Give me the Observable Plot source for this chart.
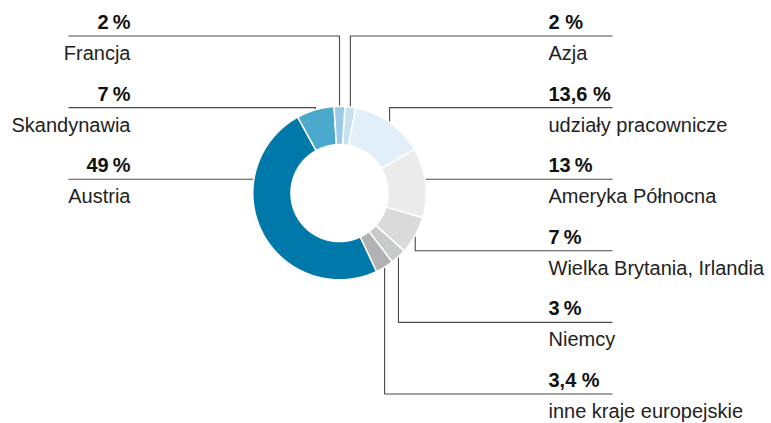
<!DOCTYPE html>
<html><head><meta charset="utf-8">
<script src="https://cdn.jsdelivr.net/npm/d3@7"></script>
<script src="https://cdn.jsdelivr.net/npm/@observablehq/plot@0.6"></script>
<style>body{margin:0;background:#fff}</style>
</head><body><div id="chart"></div>
<script>
// ---- data ----
const categories = ["Azja", "udziały pracownicze", "Ameryka Północna", "Wielka Brytania, Irlandia", "Niemcy", "inne kraje europejskie", "Austria", "Skandynawia", "Francja"];
const shares = [2, 13.6, 13, 7, 3, 3.4, 49, 7, 2];
const shareLabels = ["2 %", "13,6 %", "13\u2009%", "7\u2009%", "3\u2009%", "3,4 %", "49\u2009%", "7\u2009%", "2\u2009%"];
const palette = ["#c7e1f0", "#e2eff8", "#ebebeb", "#dadada", "#c9caca", "#b1b2b3", "#0078a9", "#4ca9ce", "#9bcbe4"];

// ---- layout ----
const W = 771, H = 423;
const cx = 339, cy = 192.6, R = 86.7, r0 = 48.5;
const rowTop = 35.5, rowStep = 71.6;
const rightTextX = 548, rightLineEnd = 612, leftTextX = 130, leftLineEnd = 68;
const fs = 20;

const rows = categories.map((c, i) => ({category: c, share: shares[i], label: shareLabels[i], color: palette[i]}));
const rot = shares[shares.length - 1] / 2 / d3.sum(shares) * 2 * Math.PI;
const arcs = d3.pie().sort(null).value(d => d.share).startAngle(rot).endAngle(rot + 2 * Math.PI)(rows);
const pt = (a, rad) => [cx + rad * Math.sin(a), cy - rad * Math.cos(a)];

const slicePts = [];
arcs.forEach(a => {
  const n = Math.max(4, Math.ceil((a.endAngle - a.startAngle) / 0.01));
  for (let k = 0; k <= n; k++) { const t = a.startAngle + (a.endAngle - a.startAngle) * k / n; const [x, y] = pt(t, R); slicePts.push({category: a.data.category, color: a.data.color, x, y}); }
  for (let k = n; k >= 0; k--) { const t = a.startAngle + (a.endAngle - a.startAngle) * k / n; const [x, y] = pt(t, r0); slicePts.push({category: a.data.category, color: a.data.color, x, y}); }
});

arcs.forEach(a => { a.mid = (a.startAngle + a.endAngle) / 2; a.right = a.mid < Math.PI; });
const rightArcs = arcs.filter(a => a.right).sort((p, q) => p.mid - q.mid);
const leftArcs = arcs.filter(a => !a.right).sort((p, q) => q.mid - p.mid);
rightArcs.forEach((a, i) => a.row = i);
leftArcs.forEach((a, i) => a.row = i);

const leaderPts = [];
const texts = [];
arcs.forEach(a => {
  const ly = rowTop + a.row * rowStep;
  const end = a.right ? rightLineEnd : leftLineEnd;
  const [mx, my] = pt(a.mid, R);
  const half = Math.sqrt(Math.max(0, R * R - (mx - cx) ** 2));
  const inside = Math.abs(ly - cy) < half - 1;
  const c = a.data.category;
  let pts;
  if (inside) {
    const ex = cx + (a.right ? 1 : -1) * Math.sqrt(R * R - (ly - cy) ** 2);
    pts = [[ex, ly], [end, ly]];
  } else {
    pts = [[mx, my], [mx, ly], [end, ly]];
  }
  pts.forEach(([x, y]) => leaderPts.push({category: c, x, y}));
  const tx = a.right ? rightTextX : leftTextX;
  texts.push({x: tx, y: ly - 7 - 0.32 * fs, text: a.data.label, bold: true, anchor: a.right ? "start" : "end"});
  texts.push({x: tx, y: ly + 24 - 0.32 * fs, text: c, bold: false, anchor: a.right ? "start" : "end"});
});

const font = "'Liberation Sans', Arial, Helvetica, sans-serif";
const chart = Plot.plot({
  width: W, height: H, margin: 0,
  x: {type: "linear", domain: [0, W], range: [0, W], axis: null},
  y: {type: "linear", domain: [0, H], range: [0, H], axis: null},
  style: {fontFamily: font, background: "#fff"},
  marks: [
    Plot.line(leaderPts, {x: "x", y: "y", z: "category", stroke: "#4a4a4a", strokeWidth: 1.1, strokeLinecap: "butt", strokeLinejoin: "miter"}),
    Plot.line(slicePts, {x: "x", y: "y", z: "category", fill: "color", stroke: "#fff", strokeWidth: 1.5, curve: "linear-closed"}),
    Plot.text(texts.filter(d => d.bold && d.anchor === "start"), {x: "x", y: "y", text: "text", textAnchor: "start", fontSize: fs, fontWeight: "bold", fill: "#111"}),
    Plot.text(texts.filter(d => d.bold && d.anchor === "end"), {x: "x", y: "y", text: "text", textAnchor: "end", fontSize: fs, fontWeight: "bold", fill: "#111"}),
    Plot.text(texts.filter(d => !d.bold && d.anchor === "start"), {x: "x", y: "y", text: "text", textAnchor: "start", fontSize: fs, fill: "#222"}),
    Plot.text(texts.filter(d => !d.bold && d.anchor === "end"), {x: "x", y: "y", text: "text", textAnchor: "end", fontSize: fs, fill: "#222"})
  ]
});
document.getElementById("chart").appendChild(chart);
</script>
</body></html>
